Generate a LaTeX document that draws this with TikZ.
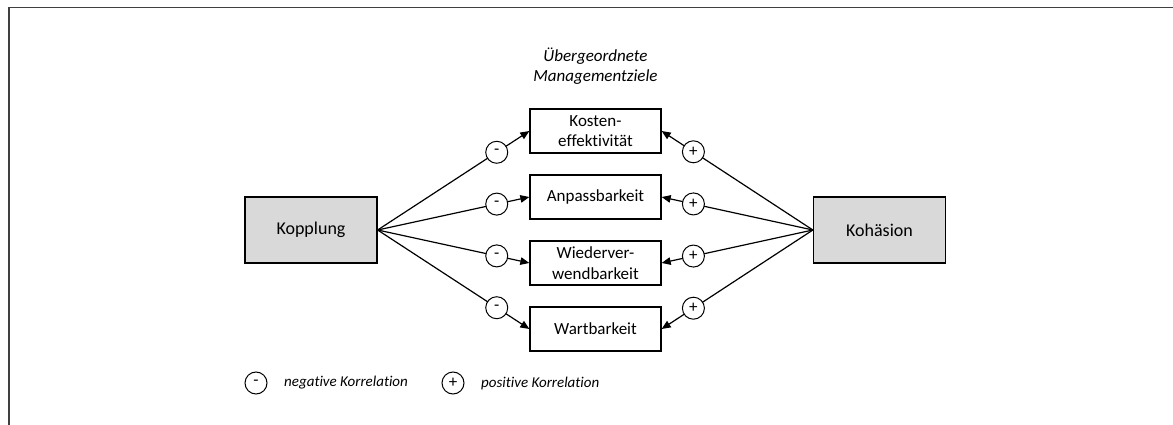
\documentclass[tikz,border=0pt]{standalone}
\usepackage{fontspec}
\setmainfont{Carlito}[Ligatures={TeX,NoCommon}]
\usetikzlibrary{arrows.meta}
\definecolor{framegray}{RGB}{64,64,64}
\definecolor{boxgray}{RGB}{217,217,217}
\begin{document}
\begin{tikzpicture}[x=1pt,y=-1pt,
  bigbox/.style={draw=black, line width=1.3pt, fill=boxgray, minimum width=132pt, minimum height=66pt, inner sep=0pt, font=\fontsize{18}{21}\selectfont},
  goalbox/.style={draw=black, line width=1.3pt, fill=white, minimum width=131pt, minimum height=44pt, inner sep=0pt, align=center, font=\fontsize{17}{20.5}\selectfont},
  corr/.style={draw=black, line width=1pt, fill=white, circle, minimum size=22pt, inner sep=0pt, font=\fontsize{17}{17}\selectfont},
  conn/.style={line width=1.2pt, -{Triangle[length=9pt,width=7.5pt]}},
  legtext/.style={anchor=west, inner sep=0pt, font=\fontsize{15}{18}\selectfont\itshape}
]
\useasboundingbox (0,0) rectangle (1173,425);
\coordinate (fa) at (9,425);
\coordinate (fb) at (9,7.5);
\coordinate (fc) at (1173,7.5);
\draw[line width=1.5pt, framegray] (fa) -- (fb) -- (fc);

\node[align=center, font=\fontsize{17}{20}\selectfont\itshape] (title) at (595.5,66) {Übergeordnete\\Managementziele};

\node[bigbox] (kop) at (311,230) {Kopplung};
\node[bigbox] (koh) at (879.5,230) {Kohäsion};

\node[goalbox] (g1) at (595.5,131) {Kosten-\\effektivität};
\node[goalbox] (g2) at (595.5,197) {Anpassbarkeit};
\node[goalbox] (g3) at (595.5,263) {Wiederver-\\wendbarkeit};
\node[goalbox] (g4) at (595.5,329) {Wartbarkeit};

\foreach \g in {g1,g2,g3,g4}{
  \draw[conn] (kop.east) -- node[corr, pos=0.785] {-} (\g.west);
  \draw[conn] (koh.west) -- node[corr, pos=0.79] {+} (\g.east);
}

\node[corr] (lm) at (256,383) {-};
\node[legtext] (lmt) at (284,383) {negative Korrelation};
\node[corr] (lp) at (453,383) {+};
\node[legtext] (lpt) at (481,383) {positive Korrelation};
\end{tikzpicture}
\end{document}
